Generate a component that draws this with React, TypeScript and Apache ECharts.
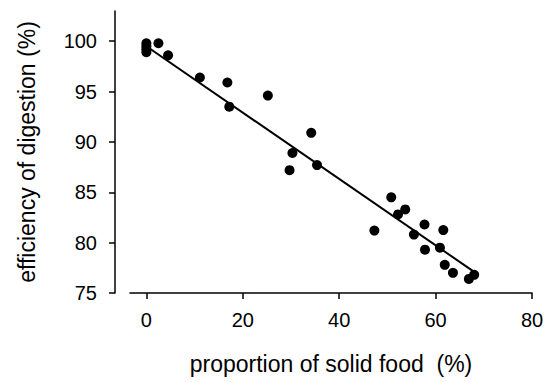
import React, { useEffect, useRef } from "react";
import * as echarts from "echarts";

const solidFood = [0, 0, 0, 0, 2.5, 4.5, 11.1, 16.8, 17.2, 25.2, 29.7, 30.3, 34.2, 35.4, 47.3, 50.8, 52.2, 53.7, 55.5, 57.7, 57.8, 60.9, 61.6, 61.9, 63.6, 66.9, 68.0];
const efficiency = [99.8, 99.5, 99.2, 98.9, 99.8, 98.6, 96.4, 95.9, 93.5, 94.6, 87.2, 88.9, 90.9, 87.7, 81.2, 84.5, 82.8, 83.3, 80.8, 81.8, 79.3, 79.5, 81.25, 77.8, 77.0, 76.4, 76.8];
const fitX = [0, 68];
const fitY = [99.5, 77.1];
const xTicks = [0, 20, 40, 60, 80];
const yTicks = [75, 80, 85, 90, 95, 100];

const FONT = "Liberation Sans, Arial, sans-serif";

export default function App() {
  const ref = useRef<HTMLDivElement>(null);
  useEffect(() => {
    if (!ref.current) return;
    const chart = echarts.init(ref.current, null, { renderer: "svg" });
    chart.setOption({
      animation: false,
      backgroundColor: "#ffffff",
      grid: { left: 130, right: 20, top: 11, bottom: 89, containLabel: false },
      xAxis: {
        type: "value",
        min: -3.4,
        max: 80,
        name: "proportion of solid food  (%)",
        nameLocation: "middle",
        nameGap: 59,
        nameTextStyle: { fontFamily: FONT, fontSize: 23, color: "#000" },
        splitLine: { show: false },
        axisLine: { show: true, onZero: false, lineStyle: { color: "#000", width: 1.5 } },
        axisTick: { show: true, customValues: xTicks, length: 6, lineStyle: { color: "#000", width: 1.5 } },
        axisLabel: { customValues: xTicks, margin: 17, fontFamily: FONT, fontSize: 20, color: "#000" },
      },
      yAxis: {
        type: "value",
        min: 75,
        max: 103,
        offset: 15,
        name: "efficiency of digestion (%)",
        nameLocation: "middle",
        nameGap: 77,
        nameTextStyle: { fontFamily: FONT, fontSize: 23, color: "#000" },
        splitLine: { show: false },
        axisLine: { show: true, onZero: false, lineStyle: { color: "#000", width: 1.5 } },
        axisTick: { show: true, customValues: yTicks, length: 6, lineStyle: { color: "#000", width: 1.5 } },
        axisLabel: { customValues: yTicks, margin: 18, fontFamily: FONT, fontSize: 20, color: "#000" },
      },
      series: [
        {
          type: "line",
          data: fitX.map((x, i) => [x, fitY[i]]),
          showSymbol: false,
          symbol: "none",
          lineStyle: { color: "#000", width: 2 },
          silent: true,
          z: 2,
        },
        {
          type: "scatter",
          data: solidFood.map((x, i) => [x, efficiency[i]]),
          symbol: "circle",
          symbolSize: 10,
          itemStyle: { color: "#000", opacity: 1 },
          z: 3,
        },
      ],
    });
    return () => chart.dispose();
  }, []);
  return (
    <div
      ref={ref}
      style={{ position: "absolute", left: 0, top: 0, width: 552, height: 382 }}
    />
  );
}
